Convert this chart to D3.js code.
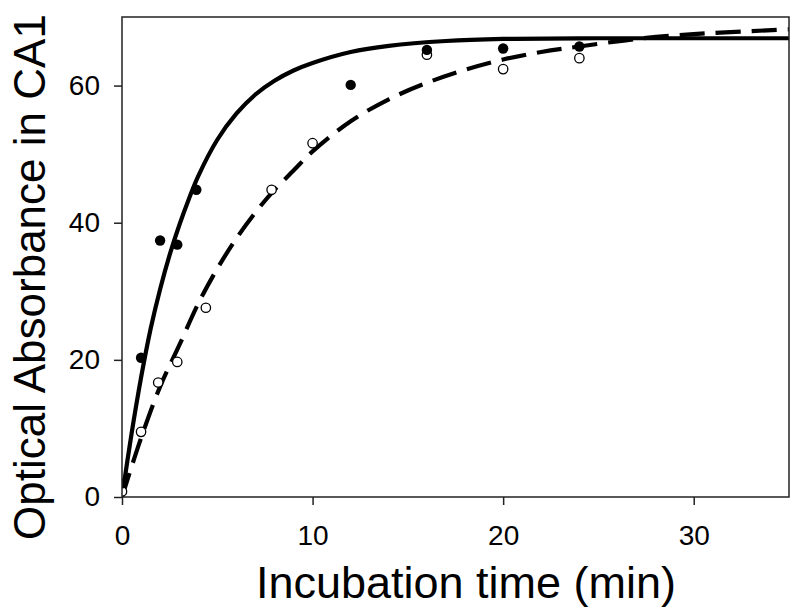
<!DOCTYPE html>
<html>
<head>
<meta charset="utf-8">
<script src="https://cdn.jsdelivr.net/npm/d3@7"></script>
<style>
  body { margin: 0; background: #fff; }
  svg { display: block; font-family: "Liberation Sans", Arial, sans-serif; }
</style>
</head>
<body>
<script>
// filled circles (solid fit) and open circles (dashed fit)
let filledT = [0, 1, 2, 2.9, 3.9, 12, 16, 20, 24]
let filledY = [2, 20.3, 37.4, 36.8, 44.8, 60.1, 65.2, 65.4, 65.7]
let openT = [0, 1, 1.9, 2.9, 4.4, 7.85, 10, 16, 20, 24]
let openY = [0.8, 9.5, 16.7, 19.7, 27.6, 44.8, 51.6, 64.5, 62.4, 64]

// fit curves
let solidT = [0, 0.5, 1, 1.5, 2, 2.5, 3, 3.5, 4, 5, 6, 7, 8, 9, 10, 12, 14, 17, 20, 25, 30, 35]
let solidY = [0, 9.2, 17.4, 24.5, 30.3, 35.3, 39.6, 43.4, 46.8, 52.1, 55.9, 58.7, 60.7, 62.2, 63.3, 64.9, 65.8, 66.5, 66.8, 66.9, 66.9, 66.9]
let dashT = [0, 1, 2, 3, 4, 5, 6, 7, 8, 9, 10, 12, 14, 16, 18, 20, 22, 24, 27, 30, 35]
let dashY = [0, 8.6, 16.1, 22.1, 28.2, 33.3, 37.7, 41.5, 44.8, 47.6, 50.4, 54.8, 58, 60.4, 62.3, 63.8, 64.9, 65.7, 66.8, 67.5, 68.2]

let xTicks = [0, 10, 20, 30]
let yTicks = [0, 20, 40, 60]

let w = 800, h = 612
let m = {left: 122, right: 789, top: 17, bottom: 497}

let svg = d3.select("body").append("svg")
    .attr("width", w)
    .attr("height", h)

let x = d3.scaleLinear().domain([0, 35]).range([m.left, m.right])
let y = d3.scaleLinear().domain([0, 70]).range([m.bottom, m.top])

svg.append("clipPath").attr("id", "clip")
    .append("rect")
    .attr("x", m.left).attr("y", m.top)
    .attr("width", m.right - m.left).attr("height", m.bottom - m.top)

let plot = svg.append("g").attr("clip-path", "url(#clip)")

let line = d3.line()
    .x(d => x(d[0]))
    .y(d => y(d[1]))
    .curve(d3.curveCatmullRom)

plot.append("path")
    .datum(solidT.map((t, i) => [t, solidY[i]]))
    .attr("d", line)
    .attr("fill", "none")
    .attr("stroke", "#000")
    .attr("stroke-width", 4.2)

plot.append("path")
    .datum(dashT.map((t, i) => [t, dashY[i]]))
    .attr("d", line)
    .attr("fill", "none")
    .attr("stroke", "#000")
    .attr("stroke-width", 4.2)
    .attr("stroke-dasharray", "25,11")

plot.selectAll("circle.open")
    .data(openT.map((t, i) => [t, openY[i]]))
    .enter()
    .append("circle")
    .attr("class", "open")
    .attr("cx", d => x(d[0]))
    .attr("cy", d => y(d[1]))
    .attr("r", 4.7)
    .attr("fill", "#fff")
    .attr("stroke", "#000")
    .attr("stroke-width", 1.3)

plot.selectAll("circle.filled")
    .data(filledT.map((t, i) => [t, filledY[i]]))
    .enter()
    .append("circle")
    .attr("class", "filled")
    .attr("cx", d => x(d[0]))
    .attr("cy", d => y(d[1]))
    .attr("r", 5.2)
    .attr("fill", "#000")

// frame
svg.append("rect")
    .attr("x", m.left).attr("y", m.top)
    .attr("width", m.right - m.left).attr("height", m.bottom - m.top)
    .attr("fill", "none")
    .attr("stroke", "#222")
    .attr("stroke-width", 1.5)

let xAxis = d3.axisBottom(x).tickValues(xTicks).tickSize(8).tickPadding(20)
let yAxis = d3.axisLeft(y).tickValues(yTicks).tickSize(8).tickPadding(14)

let gx = svg.append("g")
    .attr("transform", "translate(0," + m.bottom + ")")
    .call(xAxis)
let gy = svg.append("g")
    .attr("transform", "translate(" + m.left + ",0)")
    .call(yAxis)

for (let g of [gx, gy]) {
    g.select(".domain").remove()
    g.selectAll("line").attr("stroke", "#222").attr("stroke-width", 1.5)
    g.selectAll("text")
        .attr("fill", "#000")
        .style("font-size", "28px")
        .style("font-family", "'Liberation Sans', Arial, sans-serif")
}

svg.append("text")
    .attr("x", 466)
    .attr("y", 598)
    .attr("text-anchor", "middle")
    .style("font-size", "45px")
    .text("Incubation time (min)")

svg.append("text")
    .attr("transform", "translate(45,540) rotate(-90)")
    .attr("text-anchor", "start")
    .style("font-size", "44px")
    .text("Optical Absorbance in CA1")
</script>
</body>
</html>
